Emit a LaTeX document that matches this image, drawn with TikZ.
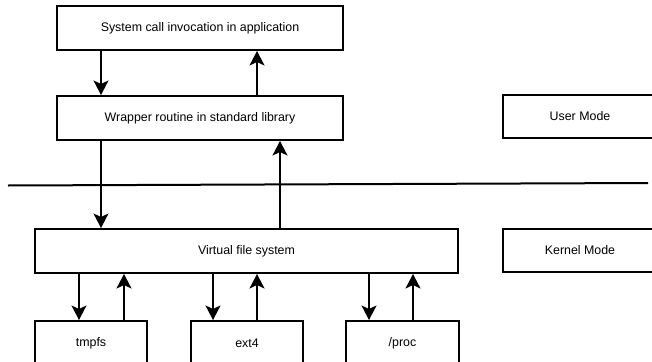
\documentclass[tikz,border=0pt]{standalone}
\usepackage{fontspec}
\setmainfont{Liberation Sans}
\usetikzlibrary{arrows.meta}
\begin{document}
\begin{tikzpicture}[x=1pt,y=-1pt,
  box/.style={draw=black,line width=2pt,fill=white,inner sep=0pt,font=\fontsize{12.4}{14}\selectfont},
  arr/.style={line width=1.7pt,-{Stealth[length=14.5pt,width=15pt,inset=3.5pt]}},
  sep/.style={line width=2pt}]
\useasboundingbox (0,0) rectangle (652,361);
\clip (0,0) rectangle (652,361);
% boxes
\node[box,minimum width=286pt,minimum height=44pt] (app) at (200,28) {System call invocation in application};
\node[box,minimum width=286pt,minimum height=44pt] (wrap) at (200,118) {Wrapper routine in standard library};
\node[box,minimum width=423pt,minimum height=44pt] (vfs) at (246.5,251) {Virtual file system};
\node[box,minimum width=154pt,minimum height=43pt] (user) at (580,116.5) {User Mode};
\node[box,minimum width=155pt,minimum height=43pt] (kernel) at (580,250.5) {Kernel Mode};
\node[box,minimum width=112pt,minimum height=44pt] (tmpfs) at (91,343) {tmpfs};
\node[box,minimum width=112pt,minimum height=44pt] (ext4) at (247,343) {ext4};
\node[box,minimum width=113pt,minimum height=44pt] (proc) at (402.5,343) {/proc};
% separator line
\coordinate (l1) at (8,185.5);
\coordinate (l2) at (648,183);
\draw[sep] (l1) -- (l2);
% arrow x positions
\coordinate (xa) at (101,0);
\coordinate (xb) at (257,0);
\coordinate (xc) at (280,0);
\coordinate (xd) at (79,0);
\coordinate (xe) at (124,0);
\coordinate (xf) at (213,0);
\coordinate (xg) at (257,0);
\coordinate (xh) at (369,0);
\coordinate (xi) at (413,0);
% arrows
\draw[arr] (app.south -| xa) -- (wrap.north -| xa);
\draw[arr] (wrap.north -| xb) -- (app.south -| xb);
\draw[arr] (wrap.south -| xa) -- (vfs.north -| xa);
\draw[arr] (vfs.north -| xc) -- (wrap.south -| xc);
\draw[arr] (vfs.south -| xd) -- (tmpfs.north -| xd);
\draw[arr] (tmpfs.north -| xe) -- (vfs.south -| xe);
\draw[arr] (vfs.south -| xf) -- (ext4.north -| xf);
\draw[arr] (ext4.north -| xg) -- (vfs.south -| xg);
\draw[arr] (vfs.south -| xh) -- (proc.north -| xh);
\draw[arr] (proc.north -| xi) -- (vfs.south -| xi);
\end{tikzpicture}
\end{document}
